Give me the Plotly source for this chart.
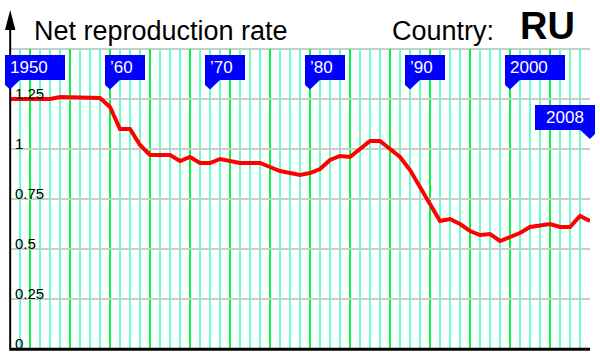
import plotly.graph_objects as go

# ---------------- data ----------------
years = list(range(1950, 2009))
nrr = [1.25, 1.25, 1.25, 1.25, 1.25, 1.26, 1.26, 1.26, 1.26, 1.255,
       1.21, 1.10, 1.10, 1.02, 0.97, 0.97, 0.97, 0.94, 0.96, 0.93,
       0.93, 0.95, 0.94, 0.93, 0.93, 0.93, 0.91, 0.89, 0.88, 0.87,
       0.88, 0.90, 0.945, 0.965, 0.96, 1.00, 1.04, 1.04, 1.00, 0.96,
       0.895, 0.81, 0.725, 0.64, 0.65, 0.625, 0.59, 0.57, 0.575, 0.54,
       0.56, 0.58, 0.61, 0.615, 0.625, 0.61, 0.61, 0.665, 0.64]
ytick_vals = [0, 0.25, 0.5, 0.75, 1, 1.25, 1.5]
ytick_text = ["0", "0.25", "0.5", "0.75", "1", "1.25", ""]
tag_years = [1950, 1960, 1970, 1980, 1990, 2000]
tag_labels = ["1950", "\u201960", "\u201970", "\u201980", "\u201990", "2000"]
last_year = 2008
last_label = "2008"
reference_level = 1
title_text = "Net reproduction rate"
country_label = "Country:"
country_code = "RU"

# ---------------- geometry helpers ----------------
W, H = 600, 360
L, R, T, B = 10, 10, 49, 11
PW, PH = W - L - R, H - T - B
X_MIN, X_MAX = years[0], years[-1]
Y_MAX = 1.5


def px(xp):
    return (xp - L) / PW


def py(yp):
    return (H - B - yp) / PH


def yr_paper(yr, dx_px=0.0):
    return (yr - X_MIN) / (X_MAX - X_MIN) + dx_px / PW


FONT = "Liberation Sans, Arial, Helvetica, sans-serif"
BLUE = "#0000ff"
LIGHT_GREEN = "#6afcca"
BRIGHT_GREEN = "#00f844"

fig = go.Figure()
fig.add_trace(go.Scatter(x=years, y=nrr, mode="lines",
                         line=dict(color="#ff0000", width=4),
                         hoverinfo="skip", showlegend=False))

shapes = []
# top grid edge
shapes.append(dict(type="line", xref="paper", yref="paper", x0=0, x1=1,
                   y0=1, y1=1, line=dict(color="#cccccc", width=2), layer="below"))
# reference line at 1
shapes.append(dict(type="line", xref="paper", yref="y", x0=0, x1=1,
                   y0=reference_level, y1=reference_level,
                   line=dict(color="black", width=2), layer="between"))
# bottom axis
shapes.append(dict(type="line", xref="paper", yref="paper", x0=0, x1=1,
                   y0=py(349.3), y1=py(349.3),
                   line=dict(color="black", width=3)))
# left axis with arrow
shapes.append(dict(type="line", xref="paper", yref="paper", x0=px(10.2), x1=px(10.2),
                   y0=py(350.5), y1=py(28),
                   line=dict(color="black", width=2)))
shapes.append(dict(type="path", xref="paper", yref="paper",
                   path=f"M {px(5)},{py(30)} L {px(15.4)},{py(30)} L {px(10.2)},{py(10)} Z",
                   fillcolor="black", line=dict(width=0)))

annotations = []
# y tick labels (inside the plot, sitting on their gridlines)
for v, t in zip(ytick_vals, ytick_text):
    if t:
        annotations.append(dict(x=px(14), xref="paper", xanchor="left",
                                y=v, yref="y", yanchor="bottom", yshift=-4,
                                text=t, showarrow=False, borderpad=0,
                                font=dict(family=FONT, size=15, color="black")))
# top tags
for yr, lab in zip(tag_years, tag_labels):
    bw = 60 if len(lab) >= 4 else 40
    annotations.append(dict(x=yr, xref="x", xanchor="left", xshift=-5,
                            y=py(55), yref="paper", yanchor="top",
                            text=lab, showarrow=False, width=bw - 10, height=15,
                            borderpad=5, borderwidth=0, bgcolor=BLUE, align="left",
                            valign="middle",
                            font=dict(family=FONT, size=17, color="white")))
    x0 = yr_paper(yr, -5)
    shapes.append(dict(type="path", xref="paper", yref="paper",
                       path=(f"M {x0},{py(79)} L {yr_paper(yr, 11)},{py(79)} "
                             f"L {yr_paper(yr, 0)},{py(89.5)} L {x0},{py(85)} Z"),
                       fillcolor=BLUE, line=dict(width=0)))
# last tag
annotations.append(dict(x=last_year, xref="x", xanchor="right", xshift=5,
                        y=py(105), yref="paper", yanchor="top",
                        text=last_label, showarrow=False, width=50, height=15,
                        borderpad=5, borderwidth=0, bgcolor=BLUE, align="center",
                        valign="middle",
                        font=dict(family=FONT, size=17, color="white")))
shapes.append(dict(type="path", xref="paper", yref="paper",
                   path=(f"M {yr_paper(last_year, 5)},{py(129)} L {yr_paper(last_year, -11)},{py(129)} "
                         f"L {yr_paper(last_year, 0)},{py(139)} L {yr_paper(last_year, 5)},{py(134)} Z"),
                   fillcolor=BLUE, line=dict(width=0)))

# titles
annotations.append(dict(x=px(32), xref="paper", xanchor="left", y=py(31), yref="paper",
                        yanchor="middle", text=title_text, showarrow=False,
                        font=dict(family=FONT, size=27, color="black")))
annotations.append(dict(x=px(390), xref="paper", xanchor="left", y=py(31), yref="paper",
                        yanchor="middle", text=country_label, showarrow=False,
                        font=dict(family=FONT, size=27, color="black")))
annotations.append(dict(x=px(518), xref="paper", xanchor="left", y=py(26), yref="paper",
                        yanchor="middle", text=f"<b>{country_code}</b>", showarrow=False,
                        font=dict(family=FONT, size=38, color="black")))

fig.update_layout(
    width=W, height=H,
    margin=dict(l=L, r=R, t=T, b=B, pad=0, autoexpand=False),
    paper_bgcolor="white", plot_bgcolor="white",
    font=dict(family=FONT, color="black"),
    shapes=shapes, annotations=annotations,
    showlegend=False,
    xaxis=dict(range=[X_MIN, X_MAX], showticklabels=False, ticks="",
               showline=False, zeroline=False, automargin=False,
               tick0=1952, dtick=4, showgrid=True,
               gridcolor=BRIGHT_GREEN, gridwidth=2,
               minor=dict(tick0=X_MIN, dtick=1, showgrid=True,
                          gridcolor=LIGHT_GREEN, gridwidth=2)),
    yaxis=dict(range=[0, Y_MAX], tickmode="array", tickvals=ytick_vals,
               ticktext=ytick_text, ticks="", showline=False, zeroline=False,
               automargin=False, showticklabels=False,
               showgrid=True, gridcolor="#cccccc", gridwidth=2),
)

fig.write_html("out.html", config={"displayModeBar": False},
               post_script="document.body.style.margin='0px';document.body.style.overflow='hidden';")
